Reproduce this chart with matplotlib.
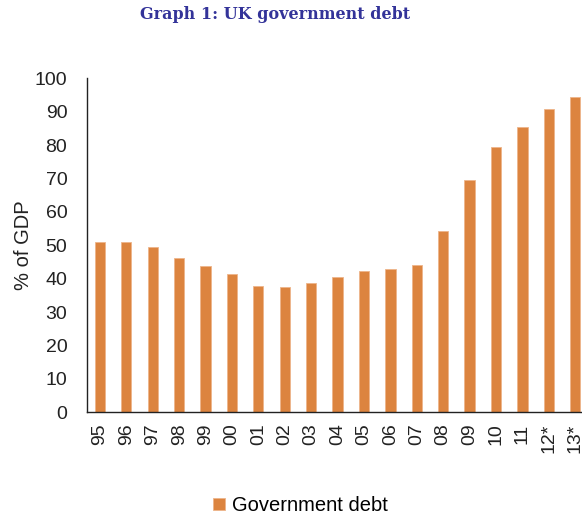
import matplotlib
matplotlib.use("Agg")
import matplotlib.pyplot as plt

# UK government debt, % of GDP (starred years are forecasts)
years = ["95", "96", "97", "98", "99", "00", "01", "02", "03", "04",
         "05", "06", "07", "08", "09", "10", "11", "12*", "13*"]
debt = [51.0, 51.0, 49.6, 46.3, 43.7, 41.3, 37.7, 37.4, 38.6, 40.4,
        42.3, 43.0, 44.2, 54.4, 69.6, 79.4, 85.3, 90.8, 94.5]

plt.rcParams["font.family"] = ["Liberation Sans", "DejaVu Sans"]

fig = plt.figure(figsize=(5.82, 5.17), dpi=100)
ax = fig.add_axes([0.149, 0.2025, 0.862, 0.646])

x = range(len(years))
ax.bar(x, debt, width=0.39, color="#DC843F", edgecolor="#EDB58A",
       linewidth=0.6, label="Government debt")

ax.set_xlim(-0.5, len(years) - 0.5)
ax.set_ylim(0, 100)
ax.set_yticks(range(0, 101, 10))
ax.set_xticks(list(x))
ax.set_xticklabels(years, rotation=90)
ax.tick_params(axis="both", length=0, labelsize=14, colors="#222222")
ax.tick_params(axis="x", pad=8)
ax.tick_params(axis="y", pad=14)

for side in ("top", "right"):
    ax.spines[side].set_visible(False)
for side in ("left", "bottom"):
    ax.spines[side].set_color("#222222")
    ax.spines[side].set_linewidth(1.0)

ax.set_ylabel("% of GDP", fontsize=14.5, color="#222222", labelpad=1)

fig.text(0.472, 0.972, "Graph 1: UK government debt", ha="center", va="center",
         fontsize=11.5, fontweight="bold", color="#333399", family="DejaVu Serif")

fig.legend(loc="center", bbox_to_anchor=(0.516, 0.022), frameon=False,
           fontsize=14.5, handlelength=0.6, handleheight=0.6, handletextpad=0.35)

fig.savefig("out.png", dpi=100)
